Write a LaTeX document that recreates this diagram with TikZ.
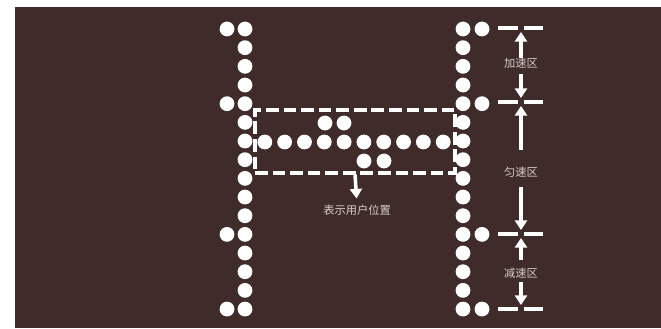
\documentclass[tikz,border=0pt]{standalone}
\usepackage{fontspec}
\newfontfamily\cjk{Noto Sans CJK SC}
\usetikzlibrary{positioning,arrows.meta}
\definecolor{bgbrown}{HTML}{3F2B29}
\definecolor{lblgray}{HTML}{D6CFCB}

\begin{document}
\begin{tikzpicture}[x=0.025cm,y=-0.025cm,
    dot/.style={circle, fill=white, inner sep=0pt, minimum size=0.37cm},
    lbl/.style={inner sep=0pt, text=lblgray, font=\cjk\fontsize{8}{9}\selectfont},
    bar/.style={white, line width=2.4pt},
    arr/.style={white, line width=2.5pt, -{Triangle[width=0.3cm,length=0.24cm]}},
    zone/.style={draw=white, line width=2.2pt, dash pattern=on 9pt off 3.5pt,
        inner sep=0pt, minimum width=5cm, minimum height=1.575cm}]
    \useasboundingbox (0,0) rectangle (661,328);
    \fill[white] (0,0) rectangle (661,328);
    \fill[bgbrown] (15,7) rectangle (661,328);

    % two long columns
    \foreach \i in {0,...,15} {
        \node[dot] (l\i) at (245,{29+18.67*\i}) {};
        \node[dot] (r\i) at (463,{29+18.67*\i}) {};
    }
    \foreach \i in {0,4,11,15} {
        \node[dot] (lo\i) at (227,{29+18.67*\i}) {};
        \node[dot] (ro\i) at (482,{29+18.67*\i}) {};
    }
    % the bar between them
    \foreach \k in {1,...,10}
        \node[dot] (c\k) at ({245+19.82*\k},142) {};
    \node[dot] (u1) at (325,123) {};
    \node[dot] (u2) at (344,123) {};
    \node[dot] (d1) at (364,161) {};
    \node[dot] (d2) at (384,161) {};

    \node[zone] (user) at (355,141.5) {};
    \node[lbl] (pos) at (357,210) {表示用户位置};
    \draw[arr, shorten >=0.15cm] (user.south) -- (pos.north);

    % zone markers on the right
    \foreach \y [count=\n] in {28,102,234,309} {
        \coordinate (m\n) at (521,\y);
        \draw[bar] (498,\y) -- (518,\y) (524,\y) -- (543,\y);
    }
    \node[lbl] (acc) at (521,63) {加速区};
    \node[lbl] (con) at (521,172) {匀速区};
    \node[lbl] (dec) at (521,273) {减速区};

    \draw[arr, shorten >=0.1cm] (acc.north) -- (m1);
    \draw[arr, shorten <=0.15cm, shorten >=0.1cm] (acc.south) -- (m2);
    \draw[arr, shorten <=0.41cm, shorten >=0.1cm] (con.north) -- (m2);
    \draw[arr, shorten <=0.24cm, shorten >=0.1cm] (con.south) -- (m3);
    \draw[arr, shorten <=0.19cm, shorten >=0.1cm] (dec.north) -- (m3);
    \draw[arr, shorten <=0.09cm, shorten >=0.1cm] (dec.south) -- (m4);
\end{tikzpicture}
\end{document}
